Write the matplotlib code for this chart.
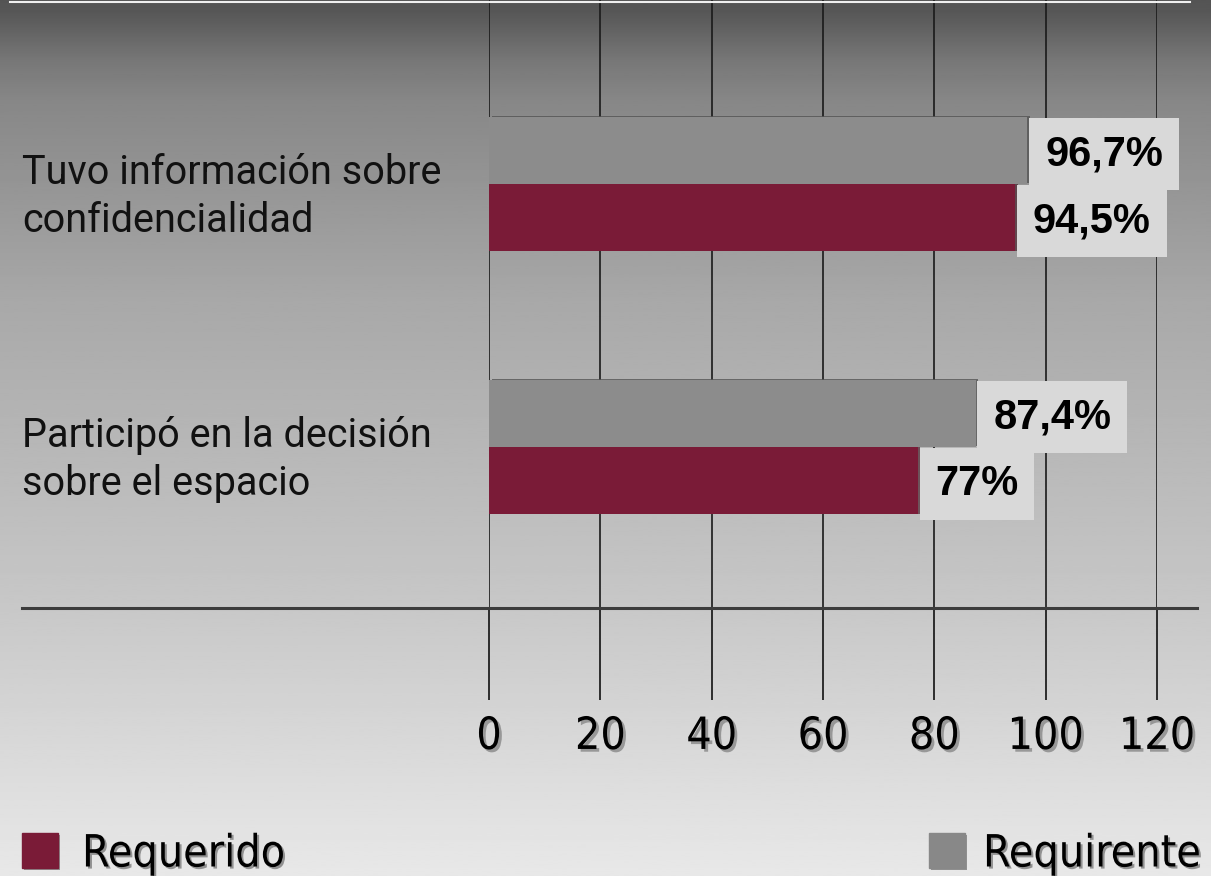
import numpy as np
import matplotlib
matplotlib.use('Agg')
import matplotlib.pyplot as plt
import matplotlib.patheffects as pe
from matplotlib.lines import Line2D

# data
categorias = ['Tuvo información sobre\nconfidencialidad',
              'Participó en la decisión\nsobre el espacio']
requirente = [96.7, 87.4]
requerido = [94.5, 77.0]
etiq_requirente = ['96,7%', '87,4%']
etiq_requerido = ['94,5%', '77%']
ticks = [0, 20, 40, 60, 80, 100, 120]

col_req = '#7a1b37'
col_reqte = '#8c8c8c'
col_caja = '#d9d9d9'

fig = plt.figure(figsize=(12.11, 8.76), dpi=100)

# background gradient (dark top, light bottom)
bg = fig.add_axes([0, 0, 1, 1], zorder=-10)
ys = np.array([0, 10, 60, 100, 300, 600, 800, 876]) / 876.0
vs = np.array([0.33, 0.34, 0.47, 0.53, 0.66, 0.78, 0.875, 0.91])
grad = np.interp(np.linspace(0, 1, 400), ys, vs)
bg.imshow(grad[:, None], aspect='auto', cmap='gray', vmin=0, vmax=1,
          extent=[0, 1, 1, 0])
bg.set_xlim(0, 1)
bg.set_ylim(1, 0)
bg.axis('off')

sombra = [pe.withSimplePatchShadow(offset=(1.5, -1.5), shadow_rgbFace='#888888', alpha=0.9)]

# main axes: x 489..1157 px, y 0..608 px
ax = fig.add_axes([489 / 1211, 1 - 608 / 876, (1157 - 489) / 1211, 608 / 876])
ax.patch.set_alpha(0)
for s in ax.spines.values():
    s.set_visible(False)

y = np.arange(len(categorias))
h = 0.255
ax.barh(y - h / 2, requirente, height=h, color=col_reqte, zorder=3,
        path_effects=[pe.withSimplePatchShadow(offset=(2, 1), shadow_rgbFace='#555555', alpha=0.8)])
ax.barh(y + h / 2, requerido, height=h, color=col_req, zorder=3,
        path_effects=[pe.withSimplePatchShadow(offset=(2, 0), shadow_rgbFace='#3a0d1a', alpha=0.6)])

# value labels in light boxes
for pos, vals, etiq in [(y - h / 2, requirente, etiq_requirente),
                        (y + h / 2, requerido, etiq_requerido)]:
    for yi, v, t in zip(pos, vals, etiq):
        ax.annotate(t, xy=(v, yi), xytext=(12.8, -2.5), textcoords='offset points',
                    ha='left', va='center', fontsize=30, fontweight='bold',
                    family='Liberation Sans', color='black', zorder=5,
                    bbox=dict(boxstyle='square,pad=0.38', fc=col_caja, ec='none'))

ax.set_xlim(0, 120)
ax.set_ylim(1.612, -0.700)
ax.set_xticks(ticks)
ax.set_xticklabels([str(t) for t in ticks], fontsize=32, fontstretch='condensed',
                   family='DejaVu Sans')
for lbl in ax.get_xticklabels():
    lbl.set_path_effects([pe.withSimplePatchShadow(offset=(2, -2), shadow_rgbFace='#888888', alpha=0.8)])
ax.tick_params(axis='x', direction='out', length=66, width=1.2, color='#111111', pad=11)
ax.set_yticks([])
ax.grid(axis='x', color='#1a1a1a', linewidth=1.2, zorder=0)
ax.set_axisbelow(True)

# category labels, left aligned at x = 22 px
x_lab = -(489 - 22) / (1157 - 489)
for yi, c in zip(y, categorias):
    ax.annotate(c, xy=(x_lab, yi), xycoords=('axes fraction', 'data'),
                xytext=(0, -9), textcoords='offset points',
                ha='left', va='center', fontsize=28.5, family='Roboto',
                color='#111111', linespacing=1.3)

# horizontal baseline
fig.add_artist(Line2D([22 / 1211, 1197 / 1211], [1 - 608 / 876, 1 - 608 / 876],
                      color='#3c3c3c', linewidth=2.2))
# thin light top line
fig.add_artist(Line2D([10 / 1211, 1190 / 1211], [1 - 2 / 876, 1 - 2 / 876],
                      color='#f0f0f0', linewidth=1.5))

# legend
fig.patches.append(plt.Rectangle((22 / 1211, 1 - 868 / 876), 36 / 1211, 35 / 876,
                                 transform=fig.transFigure, color=col_req,
                                 path_effects=sombra, figure=fig))
fig.text(82 / 1211, 1 - 854 / 876, 'Requerido', fontsize=32, fontstretch='condensed',
         family='DejaVu Sans', va='center', ha='left', path_effects=sombra)
fig.patches.append(plt.Rectangle((929 / 1211, 1 - 868 / 876), 36 / 1211, 35 / 876,
                                 transform=fig.transFigure, color='#888888',
                                 path_effects=sombra, figure=fig))
fig.text(983 / 1211, 1 - 854 / 876, 'Requirente', fontsize=32, fontstretch='condensed',
         family='DejaVu Sans', va='center', ha='left', path_effects=sombra)

fig.savefig('out.png', dpi=100)
